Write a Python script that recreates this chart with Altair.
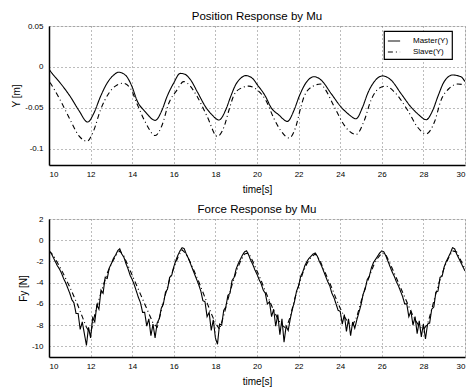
import altair as alt
import pandas as pd

# ---------------- Position response (Y [m]) ----------------
pos_master_t = [10.0, 10.15, 10.55, 11.03, 11.43, 11.86, 12.15, 12.47, 12.79, 13.11, 13.35, 13.67, 13.99,
                14.23, 14.63, 15.11, 15.43, 15.67, 15.99, 16.31, 16.49, 16.81, 17.13, 17.53, 17.85, 18.17,
                18.49, 18.73, 18.97, 19.21, 19.46, 19.78, 20.02, 20.42, 20.66, 21.06, 21.46, 21.78, 22.02,
                22.34, 22.74, 23.08, 23.56, 24.04, 24.36, 24.76, 25.08, 25.32, 25.64, 26.04, 26.44, 26.92,
                27.4, 27.75, 28.13, 28.45, 28.69, 29.0, 29.41, 29.8, 30.0]
pos_master_y = [-0.003, -0.008, -0.020, -0.0366, -0.053, -0.0675, -0.057, -0.0366, -0.020, -0.010, -0.0065,
                -0.010, -0.024, -0.041, -0.055, -0.0654, -0.053, -0.0366, -0.020, -0.008, -0.0086, -0.016,
                -0.0305, -0.049, -0.059, -0.065, -0.053, -0.0366, -0.022, -0.014, -0.0107, -0.014, -0.022,
                -0.0366, -0.049, -0.059, -0.0667, -0.053, -0.0366, -0.020, -0.012, -0.016, -0.0325, -0.049,
                -0.057, -0.0634, -0.049, -0.0325, -0.018, -0.011, -0.016, -0.0325, -0.049, -0.058, -0.0646,
                -0.053, -0.0366, -0.018, -0.0099, -0.012, -0.018]

pos_slave_t = [10.05, 10.55, 11.03, 11.43, 11.83, 12.15, 12.47, 12.87, 13.19, 13.56, 13.91, 14.23, 14.63,
               15.11, 15.43, 15.75, 16.15, 16.47, 16.65, 17.13, 17.61, 18.09, 18.41, 18.65, 18.89, 19.21,
               19.6, 20.02, 20.42, 20.82, 21.14, 21.54, 21.86, 22.1, 22.26, 22.66, 23.06, 23.24, 23.72,
               24.2, 24.76, 25.16, 25.48, 25.88, 26.2, 26.6, 27.24, 27.72, 28.13, 28.53, 28.85, 29.25,
               29.65, 30.0]
pos_slave_y = [-0.019, -0.041, -0.0654, -0.084, -0.091, -0.0778, -0.053, -0.0325, -0.0235, -0.020, -0.026,
               -0.045, -0.0675, -0.084, -0.0716, -0.045, -0.0284, -0.018, -0.020, -0.0366, -0.061, -0.085,
               -0.0737, -0.053, -0.0346, -0.0263, -0.0235, -0.0284, -0.0407, -0.0634, -0.0778, -0.087,
               -0.0737, -0.050, -0.0366, -0.024, -0.021, -0.026, -0.049, -0.0716, -0.0827, -0.0654,
               -0.0407, -0.026, -0.0235, -0.0305, -0.053, -0.0737, -0.0819, -0.0675, -0.0407, -0.026,
               -0.021, -0.022]

# ---------------- Force response (Fy [N]) ----------------
force_master_t = [round(10 + 0.1 * i, 1) for i in range(201)]
force_master_y = [
    -1.0, -1.2, -1.6, -2.0, -2.4, -2.7, -3.1, -3.6, -4.0, -4.5,   # 10.0-10.9
    -5.0, -5.6, -5.9, -6.9, -6.9, -8.4, -7.7, -8.8, -9.9, -8.2,   # 11.0-11.9
    -9.2, -7.3, -7.7, -6.1, -6.5, -4.7, -5.0, -3.5, -3.6, -2.6,   # 12.0-12.9
    -2.2, -1.7, -1.4, -1.0, -0.8, -1.3, -1.6, -2.2, -2.7, -3.3,   # 13.0-13.9
    -3.7, -4.2, -4.8, -5.4, -5.9, -6.8, -6.8, -8.1, -7.4, -9.0,   # 14.0-14.9
    -7.9, -9.2, -7.8, -7.4, -6.4, -6.0, -4.9, -4.6, -3.5, -3.3,   # 15.0-15.9
    -2.5, -1.9, -1.4, -1.0, -0.7, -0.8, -1.3, -1.7, -2.2, -2.7,   # 16.0-16.9
    -3.2, -3.7, -4.2, -4.8, -5.7, -5.8, -7.2, -6.8, -8.5, -7.5,   # 17.0-17.9
    -9.2, -9.8, -7.9, -8.0, -6.6, -6.3, -5.2, -5.0, -3.8, -3.5,   # 18.0-18.9
    -2.7, -2.2, -1.8, -1.4, -1.1, -1.0, -1.4, -1.9, -2.3, -2.8,   # 19.0-19.9
    -3.2, -3.7, -4.1, -4.7, -5.0, -6.0, -5.8, -7.2, -6.5, -8.1,   # 20.0-20.9
    -7.0, -8.9, -7.4, -9.6, -8.1, -8.5, -7.4, -6.5, -5.8, -4.8,   # 21.0-21.9
    -4.3, -3.4, -3.0, -2.4, -2.0, -1.7, -1.5, -1.3, -1.2, -1.5,   # 22.0-22.9
    -2.0, -2.4, -2.9, -3.4, -3.9, -4.3, -5.0, -5.4, -6.0, -6.6,   # 23.0-23.9
    -6.7, -7.9, -7.0, -8.6, -7.4, -9.0, -7.7, -8.3, -7.5, -6.8,   # 24.0-24.9
    -6.1, -5.1, -4.6, -3.7, -3.4, -2.6, -2.1, -1.8, -1.5, -1.2,   # 25.0-25.9
    -1.0, -1.1, -1.5, -2.0, -2.5, -3.0, -3.4, -3.9, -4.3, -4.8,   # 26.0-26.9
    -5.3, -6.0, -6.0, -7.2, -6.7, -8.0, -7.2, -8.8, -7.6, -9.1,   # 27.0-27.9
    -7.9, -9.3, -7.9, -7.8, -6.5, -6.3, -4.9, -4.8, -3.5, -3.4,   # 28.0-28.9
    -2.5, -2.0, -1.6, -1.2, -0.7, -0.8, -1.3, -1.7, -2.1, -2.5,   # 29.0-29.9
    -2.9,                                                         # 30.0
]

force_slave_t = [round(10 + 0.2 * i, 1) for i in range(101)]
force_slave_y = [
    -1.0, -1.4, -2.1, -2.8, -3.6, -4.4, -5.3, -6.2, -7.2, -8.2,
    -8.8, -7.0, -5.6, -4.3, -3.1, -2.2, -1.5, -1.0, -1.5, -2.4,
    -3.3, -4.2, -5.1, -6.0, -6.9, -7.8, -8.2, -6.6, -5.1, -3.7,
    -2.6, -1.6, -0.9, -1.3, -2.1, -3.0, -3.9, -4.9, -5.9, -6.9,
    -7.8, -8.4, -7.1, -5.6, -4.2, -3.0, -2.0, -1.3, -1.2, -2.0,
    -2.9, -3.8, -4.8, -5.7, -6.6, -7.4, -8.0, -8.3, -7.2, -5.6,
    -4.3, -3.1, -2.2, -1.6, -1.3, -1.8, -2.7, -3.6, -4.5, -5.5,
    -6.4, -7.2, -7.8, -8.0, -7.2, -5.8, -4.5, -3.4, -2.4, -1.7,
    -1.2, -1.4, -2.2, -3.1, -4.0, -4.9, -5.8, -6.7, -7.5, -8.1,
    -8.4, -7.9, -6.5, -5.0, -3.7, -2.6, -1.7, -1.0, -1.1, -1.9,
    -2.7,
]

series_names = ["Master(Y)", "Slave(Y)"]
x_ticks = [10, 12, 14, 16, 18, 20, 22, 24, 26, 28, 30]
pos_ticks = [-0.1, -0.05, 0, 0.05]
force_ticks = [-10, -8, -6, -4, -2, 0, 2]

pos_df = pd.concat([
    pd.DataFrame({"t": pos_master_t, "v": pos_master_y, "s": series_names[0]}),
    pd.DataFrame({"t": pos_slave_t, "v": pos_slave_y, "s": series_names[1]}),
])
force_df = pd.concat([
    pd.DataFrame({"t": force_master_t, "v": force_master_y, "s": series_names[0]}),
    pd.DataFrame({"t": force_slave_t, "v": force_slave_y, "s": series_names[1]}),
])

FONT = "Liberation Sans"
dash_scale = alt.Scale(domain=series_names, range=[[1, 0], [5, 3, 1, 3]])

def xaxis():
    return alt.Axis(values=x_ticks, title="time[s]", labelExpr="toString(datum.value)",
                    grid=True, gridColor="#555", gridDash=[1, 3], gridWidth=0.8,
                    ticks=False, labelPadding=5, titlePadding=6,
                    domainColor="black", domainWidth=1.5,
                    labelFontSize=8, titleFontSize=10, titleFontWeight="normal",
                    labelFont=FONT, titleFont=FONT, labelColor="black", titleColor="black")

def yaxis(vals, title):
    return alt.Axis(values=vals, title=title, labelExpr="toString(datum.value)",
                    grid=True, gridColor="#555", gridDash=[1, 3], gridWidth=0.8,
                    ticks=False, labelPadding=6, titlePadding=3,
                    domainColor="black", domainWidth=1.5,
                    labelFontSize=8, titleFontSize=10, titleFontWeight="normal",
                    labelFont=FONT, titleFont=FONT, labelColor="black", titleColor="black")

top = alt.Chart(pos_df, title=alt.Title("Position Response by Mu", fontSize=11.5, font=FONT,
                                         fontWeight="normal", color="black", offset=0)).mark_line(
    color="black", strokeWidth=1.1, interpolate="monotone", clip=True
).encode(
    x=alt.X("t:Q", scale=alt.Scale(domain=[10, 30], nice=False), axis=xaxis()),
    y=alt.Y("v:Q", scale=alt.Scale(domain=[-0.12, 0.05], nice=False, zero=False),
            axis=yaxis(pos_ticks, "Y [m]")),
    strokeDash=alt.StrokeDash("s:N", scale=dash_scale,
                              legend=alt.Legend(title=None, orient="none", legendX=335, legendY=5,
                                                symbolType="stroke", symbolStrokeColor="black",
                                                symbolSize=150, symbolStrokeWidth=1,
                                                labelFont=FONT, labelFontSize=8, labelColor="black",
                                                fillColor="white", strokeColor="black", padding=3,
                                                rowPadding=0, labelOffset=12)),
    detail="s:N",
).properties(width=416, height=139)

bottom = alt.Chart(force_df, title=alt.Title("Force Response by Mu", fontSize=11.5, font=FONT,
                                              fontWeight="normal", color="black", offset=0)).mark_line(
    color="black", strokeWidth=1.1, clip=True
).encode(
    x=alt.X("t:Q", scale=alt.Scale(domain=[10, 30], nice=False), axis=xaxis()),
    y=alt.Y("v:Q", scale=alt.Scale(domain=[-11, 2], nice=False, zero=False),
            axis=yaxis(force_ticks, "Fy [N]")),
    strokeDash=alt.StrokeDash("s:N", scale=dash_scale, legend=None),
    detail="s:N",
).properties(width=416, height=138)

chart = alt.vconcat(top, bottom, spacing=8).properties(
    padding={"left": 11, "top": 10, "right": 2, "bottom": 2}
).configure_view(stroke="black", strokeWidth=1).configure(background="white").configure_legend(
    strokeWidth=1.2
).resolve_scale(
    y="independent", strokeDash="shared"
)

chart.save("out.html", embed_options={"renderer": "svg", "actions": False})
